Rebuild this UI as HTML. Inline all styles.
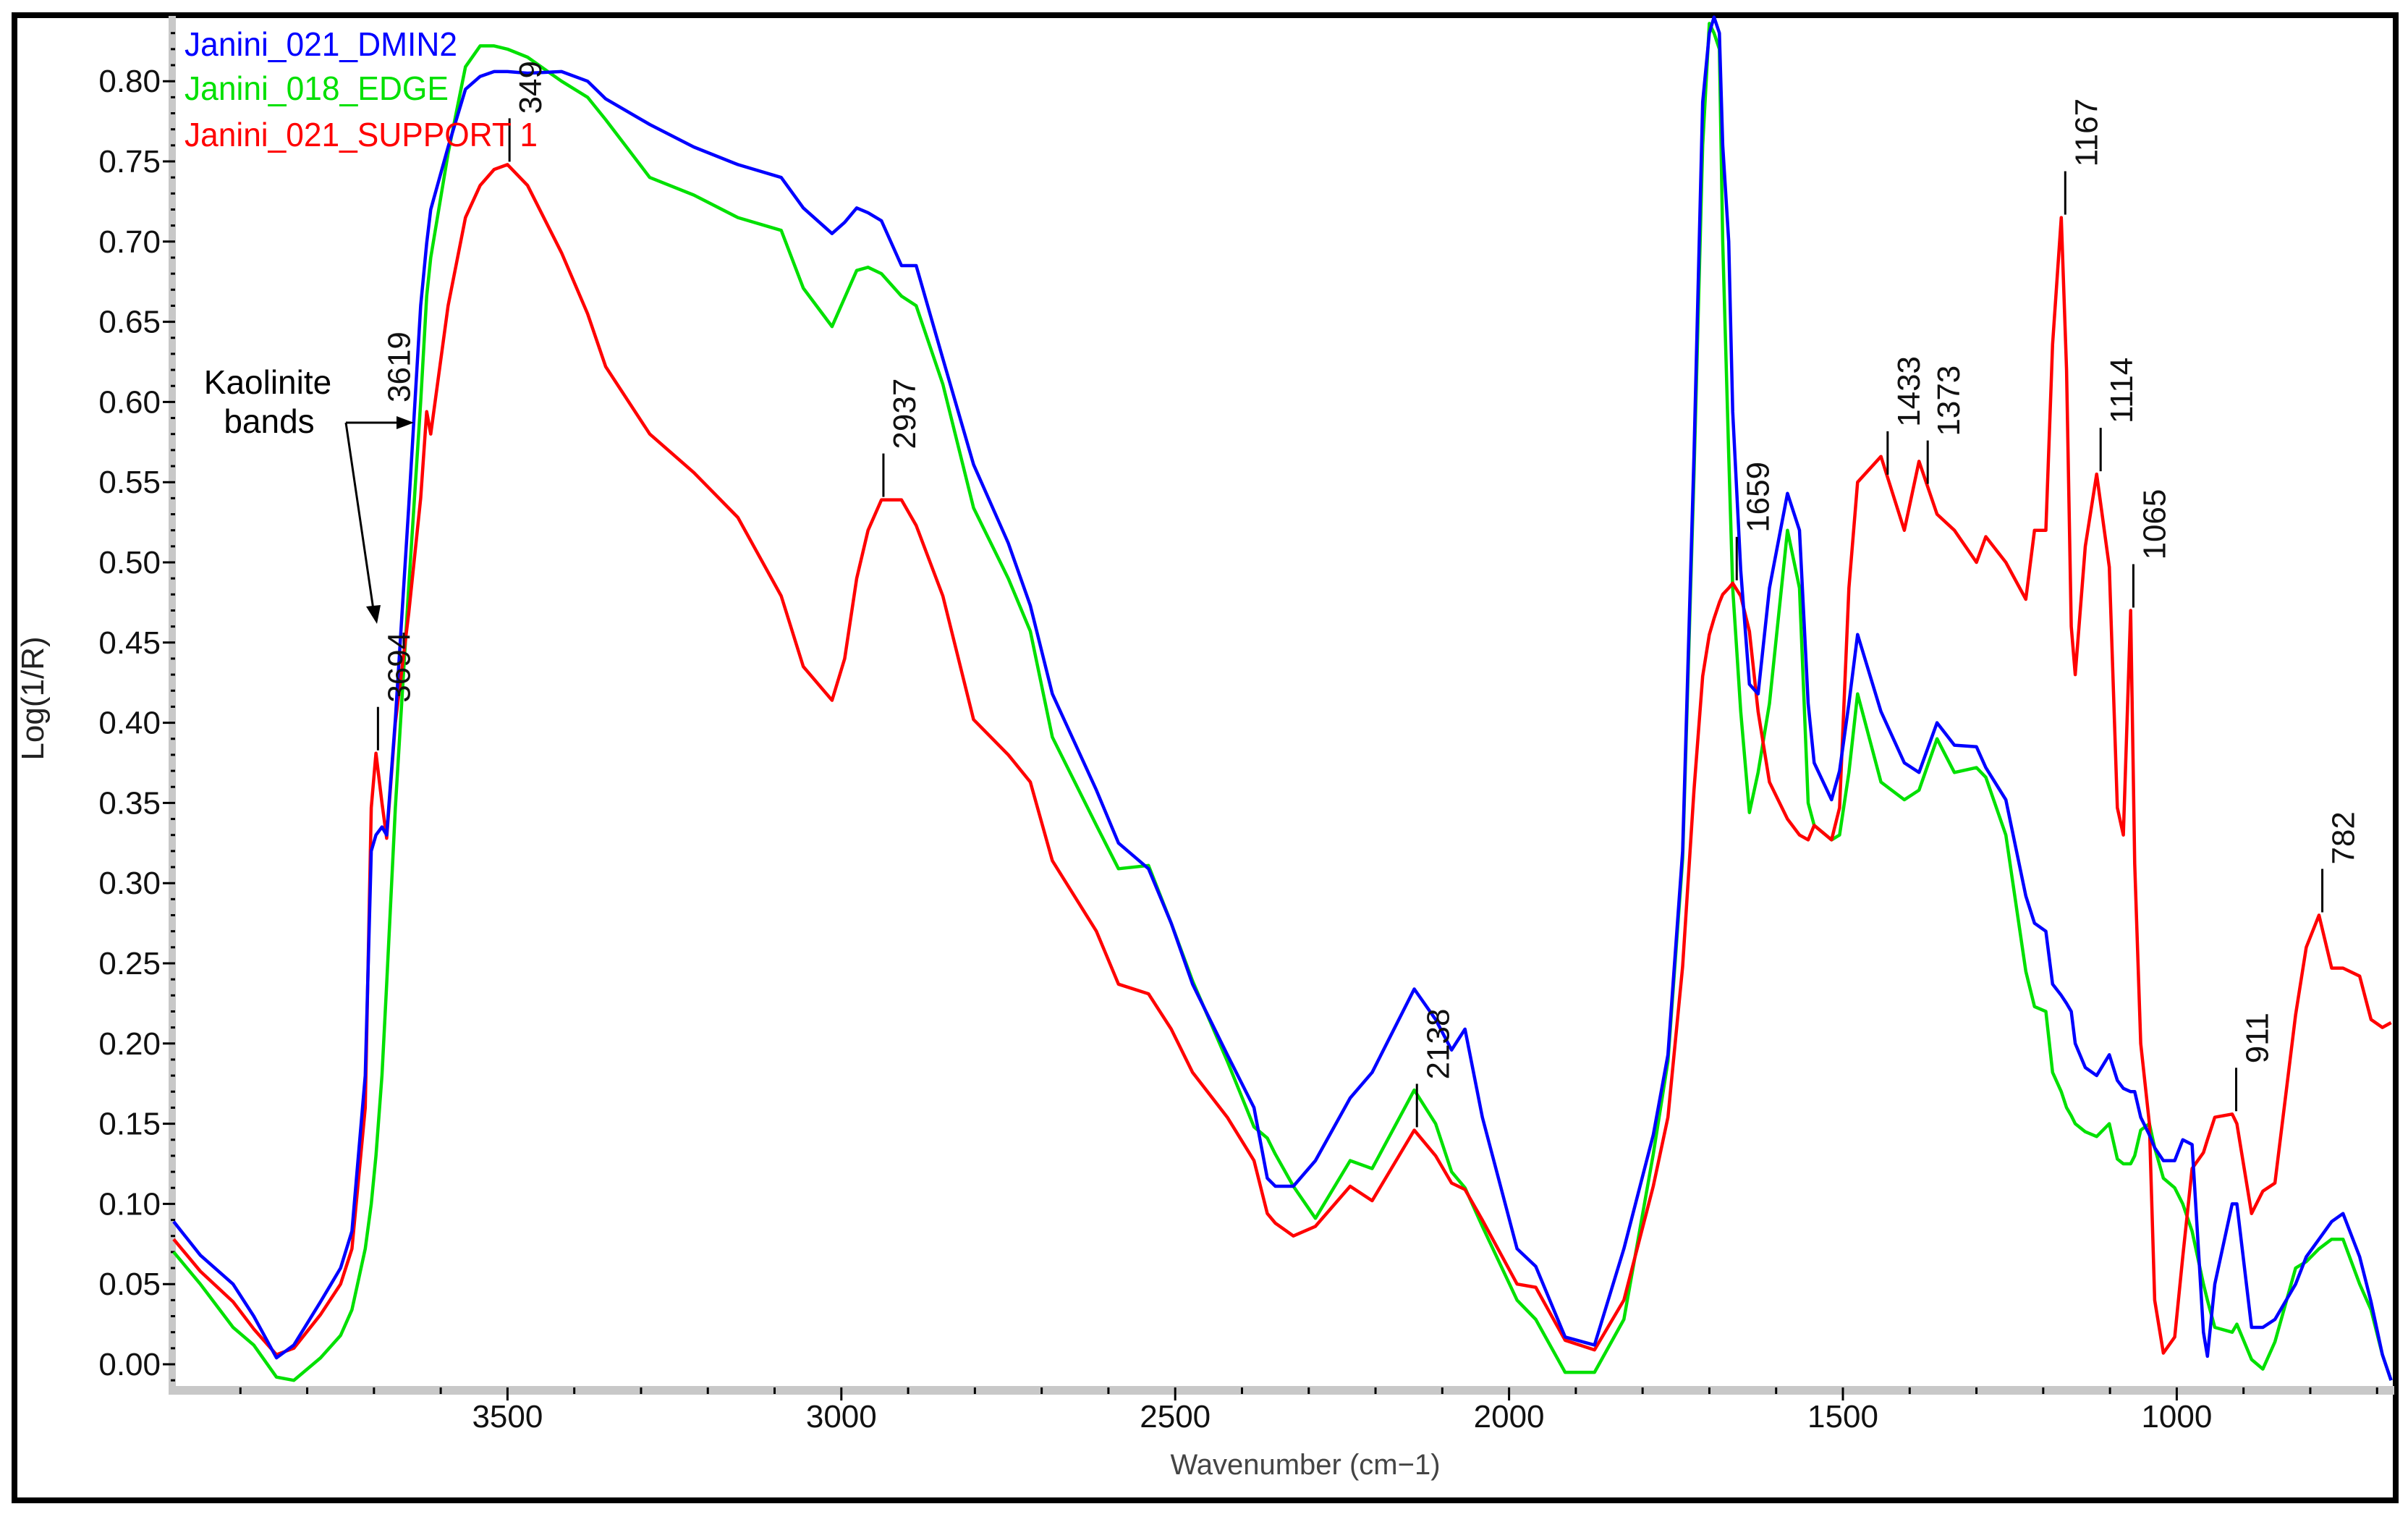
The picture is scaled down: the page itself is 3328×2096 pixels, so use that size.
<!DOCTYPE html>
<html><head><meta charset="utf-8"><style>
html,body{margin:0;padding:0;background:#fff;}
svg{display:block;}
text{font-family:"Liberation Sans",Arial,sans-serif;}
</style></head><body>
<svg id="chart" xmlns="http://www.w3.org/2000/svg" width="3328" height="2096" viewBox="0 0 3328 2096">
<rect x="0" y="0" width="3328" height="2096" fill="#fff"/>
<rect x="20" y="21" width="3291" height="2052" fill="none" stroke="#000" stroke-width="8"/>
<rect x="233" y="22" width="10" height="1900" fill="#c8c8c8"/>
<rect x="233" y="1915" width="3076" height="12" fill="#c8c8c8"/>
<g id="yaxis"></g>
<g id="xaxis"></g>
<g id="series"></g>
<g id="annots"></g>
<text transform="translate(60,965) rotate(-90)" text-anchor="middle" font-size="44" fill="#222">Log(1/R)</text>
<text x="1804" y="2037" text-anchor="middle" font-size="40" fill="#444">Wavenumber (cm−1)</text>
<g>
<text x="255" y="77" font-size="46" fill="#0000ff" textLength="377" lengthAdjust="spacingAndGlyphs">Janini_021_DMIN2</text>
<text x="255" y="138" font-size="46" fill="#00e000" textLength="365" lengthAdjust="spacingAndGlyphs">Janini_018_EDGE</text>
<text x="255" y="202" font-size="46" fill="#ff0000" textLength="488" lengthAdjust="spacingAndGlyphs">Janini_021_SUPPORT 1</text>
</g>
<g>
<text x="370" y="544" text-anchor="middle" font-size="46" fill="#000">Kaolinite</text>
<text x="372" y="598" text-anchor="middle" font-size="46" fill="#000">bands</text>
<line x1="478" y1="584" x2="555" y2="584" stroke="#000" stroke-width="3"/>
<polygon points="572,584 548,575 548,593" fill="#000"/>
<line x1="478" y1="584" x2="516" y2="842" stroke="#000" stroke-width="3"/>
<polygon points="521,862 506,838 526,836" fill="#000"/>
</g>
</svg>
<script>
const wavenumbers=[4000,3960,3911,3880,3846,3820,3780,3750,3733,3713,3704,3697,3688,3681,3668,3648,3630,3621,3615,3589,3563,3541,3520,3500,3470,3419,3380,3353,3287,3221,3155,3090,3057,3014,2995,2977,2960,2940,2910,2888,2848,2802,2750,2717,2684,2618,2585,2540,2506,2474,2422,2382,2362,2350,2323,2290,2238,2205,2142,2110,2086,2066,2040,1988,1960,1916,1872,1828,1784,1762,1740,1723,1710,1700,1693,1685,1680,1671,1665,1653,1640,1627,1610,1583,1565,1552,1543,1517,1505,1491,1478,1443,1408,1386,1359,1333,1300,1286,1256,1226,1213,1196,1186,1173,1165,1158,1152,1137,1120,1101,1089,1080,1069,1063,1054,1041,1033,1020,1003,991,977,960,954,943,917,910,888,871,853,822,806,787,768,751,726,709,692,679];
const dmin2=[.089,.068,.050,.030,.004,.012,.039,.060,.083,.180,.320,.330,.335,.330,.402,.534,.660,.699,.720,.759,.795,.803,.806,.806,.805,.806,.800,.789,.773,.759,.748,.740,.721,.705,.712,.721,.718,.713,.685,.685,.627,.561,.512,.473,.418,.358,.325,.309,.275,.237,.193,.160,.116,.111,.111,.127,.166,.182,.234,.215,.196,.209,.154,.072,.061,.017,.012,.072,.143,.193,.320,.567,.787,.830,.840,.830,.760,.700,.594,.495,.424,.418,.484,.543,.520,.412,.375,.352,.370,.412,.455,.407,.375,.369,.400,.386,.385,.372,.352,.292,.275,.270,.237,.230,.225,.220,.200,.185,.180,.193,.177,.172,.170,.170,.154,.143,.135,.127,.127,.140,.137,.020,.005,.050,.100,.100,.023,.023,.028,.050,.067,.078,.089,.094,.067,.039,.006,-.010];
const edge=[.070,.050,.023,.012,-.008,-.010,.004,.018,.034,.072,.100,.130,.180,.237,.347,.484,.600,.666,.690,.755,.809,.822,.822,.820,.815,.800,.790,.776,.740,.729,.715,.707,.671,.647,.665,.682,.684,.680,.666,.660,.611,.534,.490,.457,.391,.336,.309,.311,.275,.239,.189,.148,.141,.131,.111,.091,.127,.122,.171,.150,.120,.110,.086,.040,.028,-.005,-.005,.028,.131,.189,.315,.555,.760,.836,.830,.820,.700,.567,.484,.407,.344,.369,.412,.520,.484,.350,.336,.327,.330,.369,.418,.363,.352,.358,.390,.369,.372,.366,.330,.245,.223,.220,.182,.170,.160,.155,.150,.145,.142,.150,.128,.125,.125,.130,.146,.150,.135,.116,.110,.100,.083,.050,.040,.023,.020,.025,.003,-.003,.014,.060,.064,.072,.078,.078,.050,.034,.006,-.010];
const support1=[.078,.058,.039,.022,.006,.010,.031,.050,.072,.160,.347,.381,.350,.328,.400,.468,.540,.594,.580,.660,.715,.735,.745,.748,.735,.693,.655,.622,.580,.556,.528,.479,.435,.414,.440,.490,.520,.539,.539,.523,.479,.402,.380,.363,.314,.270,.237,.231,.209,.182,.154,.127,.094,.088,.080,.086,.111,.102,.146,.130,.113,.109,.090,.050,.048,.015,.009,.040,.111,.154,.248,.358,.429,.455,.465,.475,.480,.484,.487,.479,.457,.407,.363,.340,.330,.327,.336,.327,.347,.484,.550,.566,.520,.563,.530,.520,.500,.516,.500,.477,.520,.520,.636,.715,.620,.460,.430,.510,.555,.497,.347,.330,.470,.312,.200,.150,.040,.007,.017,.067,.122,.132,.140,.154,.156,.150,.094,.108,.113,.218,.260,.280,.247,.247,.242,.215,.210,.213];
const yTicks=["0.00","0.05","0.10","0.15","0.20","0.25","0.30","0.35","0.40","0.45","0.50","0.55","0.60","0.65","0.70","0.75","0.80"];
const xTicks=["3500","3000","2500","2000","1500","1000"];
const peakLabels=["349","3619","3694","2937","2138","1659","1433","1373","1167","1114","1065","911","782"];
const peakPositions=[3497,3619,3694,2937,2138,1659,1433,1373,1167,1114,1065,911,782];

const NS="http://www.w3.org/2000/svg";
function X(w){return 240+(4000-w)*0.9228;}
function Y(v){return 1885-v*2216;}
function mk(tag,attrs,parent){const e=document.createElementNS(NS,tag);for(const k in attrs)e.setAttribute(k,attrs[k]);parent.appendChild(e);return e;}

const ya=document.getElementById('yaxis');
for(let i=-1;i<=84;i++){
  const y=Y(i/100);
  if(y<24||y>1918)continue;
  const major=i%5===0;
  const t=mk('line',{x1:major?225:236,x2:242,y1:y,y2:y,stroke:'#000','stroke-width':3},ya);
  
  
}
yTicks.forEach(s=>{
  const t=mk('text',{x:222,y:Y(parseFloat(s))+15,'text-anchor':'end','font-size':44,fill:'#111'},ya);
  t.textContent=s;
  
  
});
const xa=document.getElementById('xaxis');
for(let w=3900;w>=700;w-=100){
  const x=X(w);const major=w%500===0;
  const t=mk('line',{x1:x,x2:x,y1:1917,y2:major?1935:1926,stroke:'#000','stroke-width':3},xa);
  
  
}
xTicks.forEach(s=>{
  const t=mk('text',{x:X(parseFloat(s)),y:1972,'text-anchor':'middle','font-size':44,fill:'#111'},xa);
  t.textContent=s;
  
  
});

const sg=document.getElementById('series');
function drawSeries(vals,color,name){
  let d='';
  for(let i=0;i<wavenumbers.length;i++){
    const x=X(wavenumbers[i]).toFixed(1),y=Y(vals[i]).toFixed(1);
    d+=(i?'L':'M')+x+' '+y;
  }
  const p=mk('path',{d:d,fill:'none',stroke:color,'stroke-width':4.5,'stroke-linejoin':'round'},sg);
  
  
}
drawSeries(edge,'#00e000','series-edge');
drawSeries(support1,'#ff0000','series-support1');
drawSeries(dmin2,'#0000ff','series-dmin2');

function interp(arr,w){
  for(let i=0;i<wavenumbers.length-1;i++){
    const a=wavenumbers[i],b=wavenumbers[i+1];
    if(w<=a&&w>=b){const f=(a-w)/(a-b);return arr[i]+(arr[i+1]-arr[i])*f;}
  }
  return arr[arr.length-1];
}
function localMax(arr,w){
  let m=interp(arr,w);
  for(let i=0;i<wavenumbers.length;i++){
    if(Math.abs(wavenumbers[i]-w)<=8&&arr[i]>m)m=arr[i];
  }
  return m;
}
const an=document.getElementById('annots');
peakLabels.forEach((lab,i)=>{
  const w=peakPositions[i];
  if(lab==="3619")return;
  const x=X(w);
  const yPeak=Y(localMax(support1,w))-4;
  const l=mk('line',{x1:x,x2:x,y1:yPeak,y2:yPeak-60,stroke:'#000','stroke-width':3},an);
  
  
  const t=mk('text',{transform:`translate(${x+44},${yPeak-66}) rotate(-90)`,'font-size':44,fill:'#111'},an);
  t.textContent=lab;
  
  
});
const t3619=mk('text',{transform:`translate(${X(3619)-25},556) rotate(-90)`,'font-size':44,fill:'#111'},an);
t3619.textContent="3619";


</script>
</body></html>
